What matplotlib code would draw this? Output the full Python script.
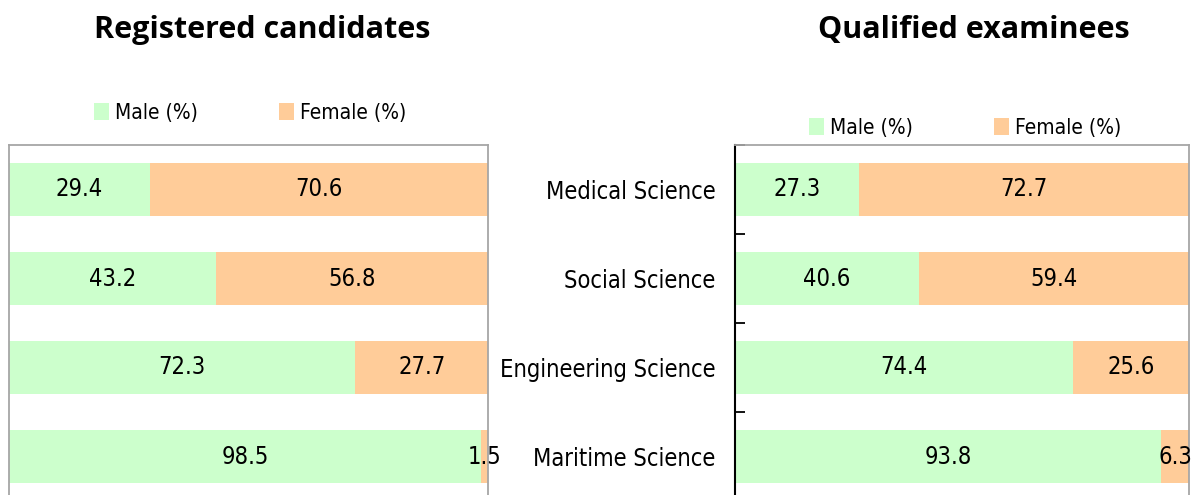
import matplotlib
matplotlib.use("Agg")
import matplotlib.pyplot as plt
from matplotlib.patches import Patch

categories = ["Medical Science", "Social Science", "Engineering Science", "Maritime Science"]
reg_male = [29.4, 43.2, 72.3, 98.5]
reg_female = [70.6, 56.8, 27.7, 1.5]
qual_male = [27.3, 40.6, 74.4, 93.8]
qual_female = [72.7, 59.4, 25.6, 6.3]
legend_labels = ["Male (%)", "Female (%)"]

green = "#CCFFCC"
orange = "#FFCC99"
gray = "#A6A6A6"
narrow = ["DejaVu Sans"]
bold = ["Open Sans", "DejaVu Sans"]

fig = plt.figure(figsize=(11.95, 4.95), dpi=100)
ax1 = fig.add_axes([9 / 1195, -6 / 495, 479 / 1195, 356 / 495])
ax2 = fig.add_axes([735 / 1195, -6 / 495, 454 / 1195, 356 / 495])

y = list(range(len(categories)))


def draw(ax, male, female):
    ax.barh(y, male, height=0.6, color=green, edgecolor="none")
    ax.barh(y, female, left=male, height=0.6, color=orange, edgecolor="none")
    for i in y:
        ax.text(male[i] / 2, i, f"{male[i]:.1f}", ha="center", va="center",
                fontsize=17, family=narrow, fontstretch="condensed")
        ax.text(male[i] + female[i] / 2, i, f"{female[i]:.1f}", ha="center",
                va="center", fontsize=17, family=narrow, fontstretch="condensed",
                clip_on=False)
    ax.set_xlim(0, 100)
    ax.set_ylim(len(categories) - 0.5, -0.5)
    ax.set_xticks([])
    for s in ax.spines.values():
        s.set_color(gray)
        s.set_linewidth(1.3)


draw(ax1, reg_male, reg_female)
draw(ax2, qual_male, qual_female)

ax1.set_yticks([])

ax2.set_yticks(y)
ax2.set_yticklabels(categories, fontsize=17, family=narrow, fontstretch="condensed")
ax2.tick_params(axis="y", which="major", length=0, pad=14)
ax2.set_yticks([i - 0.5 for i in range(len(categories) + 1)], minor=True)
ax2.tick_params(axis="y", which="minor", direction="in", length=7, width=1.3, color="black")
ax2.spines["left"].set_color("black")
ax2.spines["left"].set_linewidth(1.5)

handles = [Patch(facecolor=green), Patch(facecolor=orange)]
for ax, cx, cy in [(ax1, 250, 113), (ax2, 965, 128)]:
    ax.legend(handles, legend_labels, loc="center", ncol=2, frameon=False,
              bbox_to_anchor=(cx / 1195, 1 - cy / 495), bbox_transform=fig.transFigure,
              prop={"family": narrow, "size": 15, "stretch": "condensed"},
              handlelength=0.7, handleheight=0.9,
              handletextpad=0.3, columnspacing=3.9, borderaxespad=0)

fig.text(262 / 1195, 1 - 30 / 495, "Registered candidates", ha="center", va="center",
         fontsize=22, fontweight="bold", family=bold)
fig.text(974 / 1195, 1 - 30 / 495, "Qualified examinees", ha="center", va="center",
         fontsize=22, fontweight="bold", family=bold)

fig.savefig("out.png", dpi=100)
